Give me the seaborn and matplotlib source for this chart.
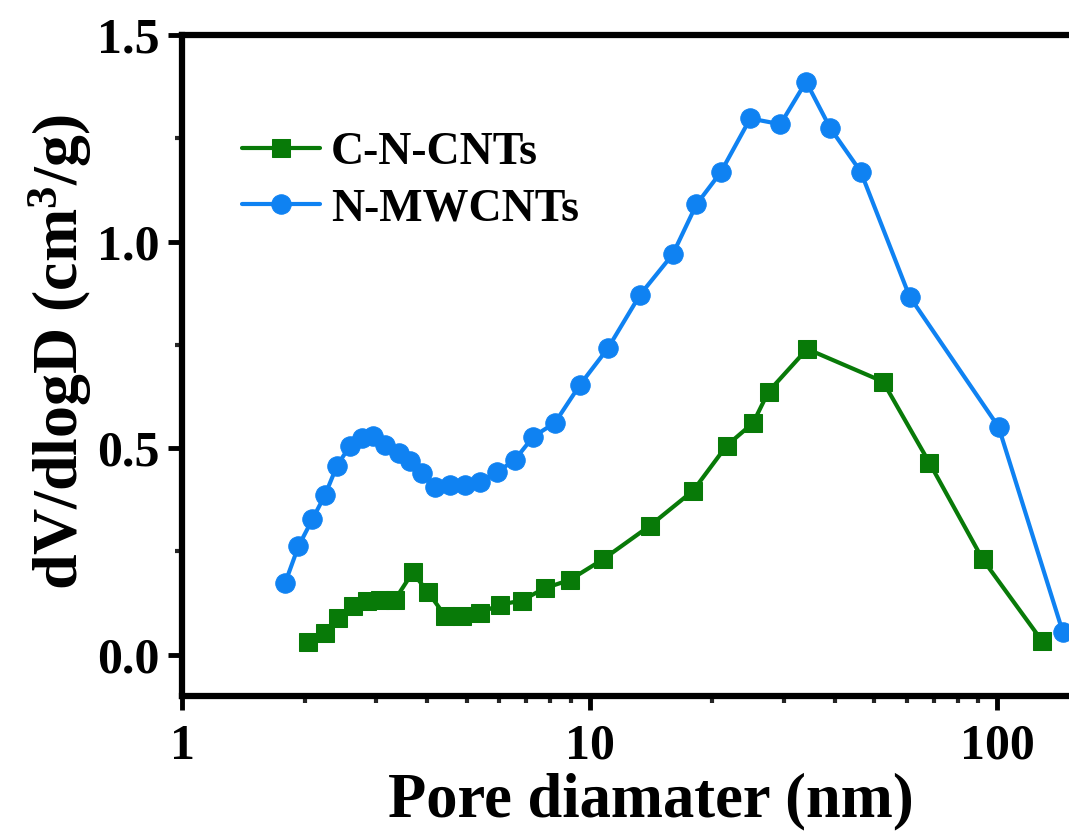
import numpy as np
import pandas as pd
import matplotlib
matplotlib.use("Agg")
import matplotlib.pyplot as plt
import seaborn as sns
from matplotlib.ticker import MultipleLocator, LogLocator, FuncFormatter, NullFormatter

# ---- data ----
cn_d = [2.04, 2.24, 2.41, 2.63, 2.84, 3.06, 3.33, 3.68, 4.02, 4.42, 4.86, 5.38,
        6.03, 6.81, 7.77, 8.95, 10.8, 14.06, 17.96, 21.7, 25.2, 27.5, 34.2,
        52.5, 68.2, 92.2, 128.8]
cn_v = [0.030, 0.052, 0.090, 0.117, 0.129, 0.133, 0.133, 0.199, 0.151, 0.094,
        0.093, 0.101, 0.121, 0.131, 0.161, 0.181, 0.231, 0.312, 0.397, 0.506,
        0.561, 0.637, 0.740, 0.661, 0.465, 0.231, 0.034]

mw_d = [1.79, 1.93, 2.09, 2.245, 2.40, 2.585, 2.76, 2.95, 3.15, 3.40, 3.63, 3.87,
        4.18, 4.55, 4.95, 5.38, 5.92, 6.56, 7.28, 8.22, 9.47, 11.1, 13.3, 16.0,
        18.3, 21.0, 24.8, 29.4, 34.0, 39.0, 46.3, 61.0, 100.9, 144.9]
mw_v = [0.173, 0.262, 0.328, 0.387, 0.457, 0.506, 0.524, 0.530, 0.508, 0.488,
        0.468, 0.440, 0.407, 0.411, 0.411, 0.419, 0.441, 0.472, 0.528, 0.561,
        0.653, 0.742, 0.871, 0.969, 1.090, 1.168, 1.298, 1.284, 1.387, 1.274,
        1.169, 0.867, 0.551, 0.056]

series_names = ["C-N-CNTs", "N-MWCNTs"]
x_ticks = [1, 10, 100]
y_ticks = [0.0, 0.5, 1.0, 1.5]

df_cn = pd.DataFrame({"d": cn_d, "v": cn_v})
df_mw = pd.DataFrame({"d": mw_d, "v": mw_v})

sns.set_style("ticks")
plt.rcParams["font.family"] = ["Liberation Serif", "DejaVu Serif"]
plt.rcParams["font.weight"] = "bold"
plt.rcParams["mathtext.fontset"] = "custom"
plt.rcParams["mathtext.rm"] = "Liberation Serif:bold"
plt.rcParams["mathtext.bf"] = "Liberation Serif:bold"
plt.rcParams["mathtext.it"] = "Liberation Serif:bold"
plt.rcParams["text.color"] = "black"
plt.rcParams["axes.labelcolor"] = "black"

fig = plt.figure(figsize=(10.69, 8.32), dpi=100)
ax = fig.add_axes([182 / 1069, 1 - 696 / 832, 892.6 / 1069, 661 / 832])

green = "#087a08"
blue = "#0f82f2"

sns.lineplot(data=df_cn, x="d", y="v", ax=ax, color=green, linewidth=3,
             marker="s", markersize=13, markeredgecolor=green,
             markerfacecolor=green, label=series_names[0])
sns.lineplot(data=df_mw, x="d", y="v", ax=ax, color=blue, linewidth=3,
             marker="o", markersize=14, markeredgecolor=blue,
             markerfacecolor=blue, label=series_names[1])

ax.set_xscale("log")
ax.set_xlim(1, 155)
ax.set_ylim(-0.1, 1.5)

ax.set_xticks(x_ticks)
ax.xaxis.set_major_formatter(FuncFormatter(lambda v, p: f"{v:g}"))
ax.xaxis.set_minor_locator(LogLocator(base=10, subs=np.arange(2, 10)))
ax.xaxis.set_minor_formatter(NullFormatter())
ax.set_yticks(y_ticks)
ax.yaxis.set_major_formatter(FuncFormatter(lambda v, p: f"{v:.1f}"))
ax.yaxis.set_minor_locator(MultipleLocator(0.25))

for s in ax.spines.values():
    s.set_color("black")
    s.set_linewidth(4.5)

ax.tick_params(axis="both", which="major", direction="out", length=10, width=3.5,
               labelsize=36, colors="black", top=False, right=False)
ax.tick_params(axis="x", which="major", pad=10)
ax.tick_params(axis="y", which="major", pad=6)
ax.tick_params(axis="both", which="minor", direction="out", length=5, width=3,
               top=False, right=False)

ax.set_xlabel("Pore diamater (nm)", fontsize=45, fontweight="bold", labelpad=2)
ax.xaxis.label.set_x(0.525)
ax.set_ylabel(r"dV/dlogD (cm$^{3}$/g)", fontsize=46, fontweight="bold", labelpad=2)
ax.yaxis.label.set_y(0.52)

leg = ax.legend(loc="upper left", bbox_to_anchor=(0.067, 0.853), frameon=False,
                fontsize=33, handlelength=1.7, handletextpad=0.25,
                labelspacing=0.3, borderaxespad=0, borderpad=0)
for t in leg.get_texts():
    t.set_fontweight("bold")

fig.savefig("out.png", dpi=100)
